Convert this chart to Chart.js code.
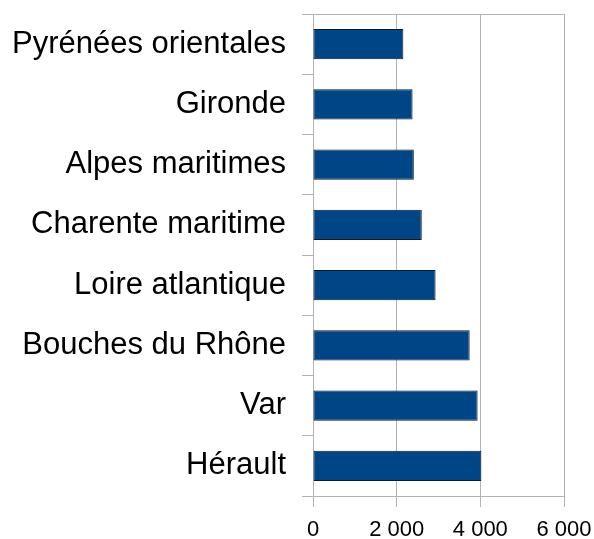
<!DOCTYPE html>
<html lang="fr">
<head>
    <meta charset="UTF-8">
    <title>Départements</title>
    <script src="https://cdn.jsdelivr.net/npm/chart.js"></script>
    <style>
        body {
            margin: 0;
            background: white;
        }
    </style>
</head>
<body>
<canvas id="chart" width="594" height="539"></canvas>

<script>
    const departements = ['Pyrénées orientales', 'Gironde', 'Alpes maritimes', 'Charente maritime',
        'Loire atlantique', 'Bouches du Rhône', 'Var', 'Hérault'];
    const valeurs = [2160, 2380, 2410, 2600, 2930, 3745, 3935, 4025];
    const xTicks = [0, 2000, 4000, 6000];

    const gridColor = '#b3b3b3';
    const lastIndex = departements.length;

    new Chart(document.getElementById('chart'), {
        type: 'bar',
        data: {
            labels: departements,
            datasets: [{
                data: valeurs,
                backgroundColor: '#004586',
                borderColor: '#0a1a30',
                borderWidth: 1,
                borderSkipped: false,
                barPercentage: 0.5,
                categoryPercentage: 1
            }]
        },
        options: {
            indexAxis: 'y',
            responsive: false,
            animation: false,
            layout: {
                padding: {top: 14, right: 30, bottom: 0, left: 0}
            },
            plugins: {
                legend: {display: false},
                tooltip: {enabled: false}
            },
            scales: {
                x: {
                    min: 0,
                    max: 6000,
                    afterBuildTicks: axis => {
                        axis.ticks = xTicks.map(v => ({value: v}));
                    },
                    afterFit: axis => {
                        axis.height = 43;
                        axis.paddingLeft = 0;
                        axis.paddingRight = 0;
                    },
                    grid: {
                        color: gridColor,
                        tickLength: 11
                    },
                    border: {color: gridColor},
                    ticks: {
                        color: '#000',
                        padding: 10,
                        font: {family: 'Liberation Sans', size: 22},
                        callback: v => v === 0 ? '0' : String(v).replace(/\B(?=(\d{3})+(?!\d))/g, ' ')
                    }
                },
                y: {
                    afterFit: axis => {
                        axis.width = 313;
                        axis.paddingTop = 0;
                        axis.paddingBottom = 0;
                    },
                    grid: {
                        offset: true,
                        tickLength: 11,
                        tickColor: gridColor,
                        color: c => (c.index === 0 || c.index === lastIndex) ? gridColor : 'transparent'
                    },
                    border: {color: gridColor},
                    ticks: {
                        color: '#000',
                        padding: 16,
                        font: {family: 'Liberation Sans', size: 31}
                    }
                }
            }
        }
    });
</script>
</body>
</html>
